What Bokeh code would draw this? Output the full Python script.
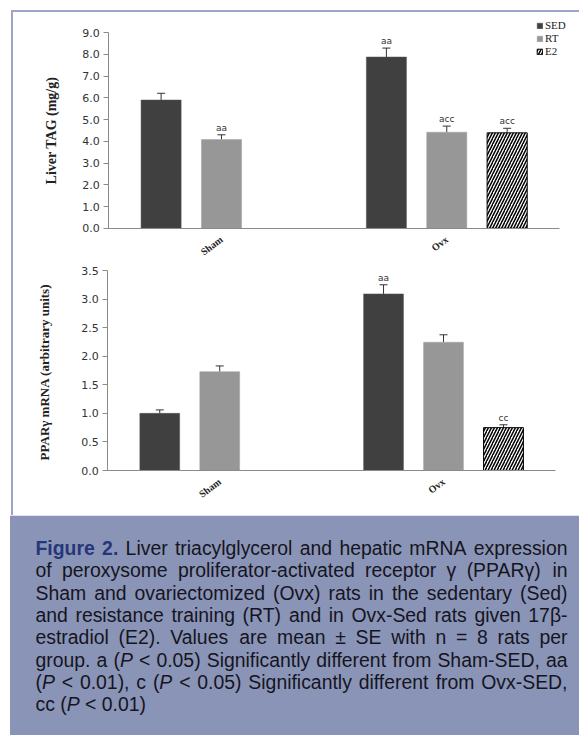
from bokeh.plotting import figure
from bokeh.models import (Range1d, FixedTicker, NumeralTickFormatter, Whisker, TeeHead,
                          ColumnDataSource, Legend, LegendItem)
from bokeh.layouts import column
from bokeh.core.properties import value
from bokeh.embed import file_html
from bokeh.resources import INLINE

# ---------------- data ----------------
groups = ["Sham", "Ovx"]
series_names = ["SED", "RT", "E2"]

tag_sed_groups = ["Sham", "Ovx"]
tag_sed = [5.90, 7.88]
tag_sed_se = [0.31, 0.41]
tag_sed_sig = ["", "aa"]
tag_rt_groups = ["Sham", "Ovx"]
tag_rt = [4.08, 4.42]
tag_rt_se = [0.22, 0.28]
tag_rt_sig = ["aa", "acc"]
tag_e2_groups = ["Ovx"]
tag_e2 = [4.39]
tag_e2_se = [0.21]
tag_e2_sig = ["acc"]

ppar_sed_groups = ["Sham", "Ovx"]
ppar_sed = [1.00, 3.09]
ppar_sed_se = [0.06, 0.16]
ppar_sed_sig = ["", "aa"]
ppar_rt_groups = ["Sham", "Ovx"]
ppar_rt = [1.73, 2.245]
ppar_rt_se = [0.10, 0.13]
ppar_rt_sig = ["", ""]
ppar_e2_groups = ["Ovx"]
ppar_e2 = [0.75]
ppar_e2_se = [0.05]
ppar_e2_sig = ["cc"]

tag_ticks = [0, 1, 2, 3, 4, 5, 6, 7, 8, 9]
ppar_ticks = [0, 0.5, 1.0, 1.5, 2.0, 2.5, 3.0, 3.5]

tag_label = "Liver TAG (mg/g)"
ppar_label = "PPARγ  mRNA (arbitrary units)"

caption_lines = [
    "**Figure 2.** Liver triacylglycerol and hepatic mRNA expression",
    "of peroxysome proliferator-activated receptor γ (PPARγ) in",
    "Sham and ovariectomized (Ovx) rats in the sedentary (Sed)",
    "and resistance training (RT) and in Ovx-Sed rats given 17β-",
    "estradiol (E2). Values are mean ± SE with n = 8 rats per",
    "group. a (_P_ < 0.05) Significantly different from Sham-SED, aa",
    "(_P_ < 0.01), c (_P_ < 0.05) Significantly different from Ovx-SED,",
    "cc (_P_ < 0.01)",
]

# ---------------- styles ----------------
BORDER = "#9DA5CC"
SED_C = "#404040"
RT_C = "#979797"
AXIS_C = "#8a8a8a"
OFFS = [-0.268, 0.0, 0.268]
BAR_W = 0.178
CANVAS_W = 566


def make_chart(height, axis_x, cat_w, top_px, zero_px, ymax, ticks, ylabel, ylabel_size,
               ylabel_standoff, data, styles, legend_loc=None):
    # frame covers the whole canvas; axes are pinned at fixed data locations
    ppu = (zero_px - top_px) / ymax
    y_start = -(height - zero_px) / ppu
    y_end = ymax + top_px / ppu
    x_start = -axis_x / cat_w
    x_end = (CANVAS_W - axis_x) / cat_w
    p = figure(width=CANVAS_W + 2, height=height + (2 if "border-top" in styles else 0),
               x_range=Range1d(x_start, x_end), y_range=Range1d(y_start, y_end),
               output_backend="svg", toolbar_location=None, min_border=0, styles=styles)
    p.outline_line_color = None
    p.grid.visible = False
    p.background_fill_color = "white"
    p.border_fill_color = "white"

    renderers = []
    for i, (g, v, se, sig) in enumerate(data):
        xs = [groups.index(k) + 0.5 + OFFS[i] for k in g]
        up = [a + b for a, b in zip(v, se)]
        src = ColumnDataSource(dict(x=xs, v=v, up=up, sig=sig))
        if i == 0:
            r = p.vbar(x="x", top="v", bottom=0, width=BAR_W, source=src,
                       fill_color=SED_C, line_color="#555555", line_width=0.5)
        elif i == 1:
            r = p.vbar(x="x", top="v", bottom=0, width=BAR_W, source=src,
                       fill_color=RT_C, line_color="#a0a0a0", line_width=0.5)
        else:
            r = p.vbar(x="x", top="v", bottom=0, width=BAR_W, source=src,
                       fill_color="white", line_color="black", line_width=1,
                       hatch_pattern="/", hatch_color="black", hatch_weight=1.5,
                       hatch_scale=6)
        renderers.append(r)
        w = Whisker(base="x", lower="v", upper="up", source=src, line_color="#333333",
                    line_width=1,
                    upper_head=TeeHead(size=8, line_color="#333333", line_width=1),
                    lower_head=None)
        p.add_layout(w)
        p.text(x="x", y="up", text="sig", source=src, text_align="center",
               text_baseline="bottom", y_offset=-2, text_font=value("DejaVu Sans"),
               text_font_size="9px", text_color="#333333")

    p.yaxis.fixed_location = 0
    p.yaxis.bounds = (0, ymax)
    p.yaxis.ticker = FixedTicker(ticks=ticks)
    p.yaxis.formatter = NumeralTickFormatter(format="0.0")
    p.yaxis.minor_tick_line_color = None
    p.yaxis.major_tick_in = 0
    p.yaxis.major_tick_out = 5
    p.yaxis.axis_line_color = AXIS_C
    p.yaxis.major_tick_line_color = AXIS_C
    p.yaxis.major_label_text_font = "DejaVu Sans"
    p.yaxis.major_label_text_font_size = "11px"
    p.yaxis.major_label_text_color = "#333333"
    p.yaxis.major_label_standoff = 4
    p.yaxis.axis_label = ylabel
    p.yaxis.axis_label_text_font = "Liberation Serif"
    p.yaxis.axis_label_text_font_style = "bold"
    p.yaxis.axis_label_text_font_size = ylabel_size
    p.yaxis.axis_label_text_color = "#222222"
    p.yaxis.axis_label_standoff = ylabel_standoff

    p.xaxis.fixed_location = 0
    p.xaxis.bounds = (0, len(groups))
    p.xaxis.ticker = FixedTicker(ticks=[i + 0.5 for i in range(len(groups))])
    p.xaxis.major_label_overrides = {i + 0.5: g for i, g in enumerate(groups)}
    p.xaxis.axis_line_color = AXIS_C
    p.xaxis.major_tick_line_color = None
    p.xaxis.minor_tick_line_color = None
    p.xaxis.major_tick_out = 0
    p.xaxis.major_tick_in = 0
    p.xaxis.major_label_orientation = 0.65
    p.xaxis.major_label_standoff = 10
    p.xaxis.major_label_text_font = "Liberation Serif"
    p.xaxis.major_label_text_font_style = "bold"
    p.xaxis.major_label_text_font_size = "10px"
    p.xaxis.major_label_text_color = "#222222"

    if legend_loc is not None:
        items = [LegendItem(label=n, renderers=[r]) for n, r in zip(series_names, renderers)]
        lg = Legend(items=items, location=legend_loc, orientation="vertical",
                    glyph_width=7, glyph_height=7, label_height=12, label_width=10,
                    spacing=1, padding=0, margin=0, label_standoff=2,
                    border_line_color=None, background_fill_alpha=0,
                    label_text_font="Liberation Serif", label_text_font_size="11px",
                    label_text_color="#222222")
        p.add_layout(lg)
    return p


tag_data = [(tag_sed_groups, tag_sed, tag_sed_se, tag_sed_sig),
            (tag_rt_groups, tag_rt, tag_rt_se, tag_rt_sig),
            (tag_e2_groups, tag_e2, tag_e2_se, tag_e2_sig)]
ppar_data = [(ppar_sed_groups, ppar_sed, ppar_sed_se, ppar_sed_sig),
             (ppar_rt_groups, ppar_rt, ppar_rt_se, ppar_rt_sig),
             (ppar_e2_groups, ppar_e2, ppar_e2_se, ppar_e2_sig)]

# p1 canvas: page x 13..579, y 12..257
p1 = make_chart(245, 95, 224.5, 20, 214, 9, tag_ticks, tag_label, "14px", 20, tag_data,
                styles={"border-left": "2px solid " + BORDER, "border-top": "2px solid " + BORDER,
                        "box-sizing": "border-box"},
                legend_loc=(523, 202))
p1.margin = (10, 0, 0, 11)
# p2 canvas: page x 13..579, y 257..515
p2 = make_chart(258, 94, 223, 13, 213, 3.5, ppar_ticks, ppar_label, "13px", 26, ppar_data,
                styles={"border-left": "2px solid " + BORDER, "box-sizing": "border-box"})
p2.margin = (0, 0, 0, 11)

# ---------------- caption ----------------
REG = {' ': 278, '!': 278, '(': 333, ')': 333, ',': 278, '-': 333, '.': 278, '<': 584,
       '=': 584, '>': 584, '±': 549, 'γ': 500, 'β': 575,
       'A': 667, 'B': 667, 'C': 722, 'D': 722, 'E': 667, 'F': 611, 'G': 778, 'H': 722,
       'I': 278, 'J': 500, 'K': 667, 'L': 556, 'M': 833, 'N': 722, 'O': 778, 'P': 667,
       'Q': 778, 'R': 722, 'S': 667, 'T': 611, 'U': 722, 'V': 667, 'W': 944, 'X': 667,
       'Y': 667, 'Z': 611, 'a': 556, 'b': 556, 'c': 500, 'd': 556, 'e': 556, 'f': 278,
       'g': 556, 'h': 556, 'i': 222, 'j': 222, 'k': 500, 'l': 222, 'm': 833, 'n': 556,
       'o': 556, 'p': 556, 'q': 556, 'r': 333, 's': 500, 't': 278, 'u': 556, 'v': 500,
       'w': 722, 'x': 500, 'y': 500, 'z': 500}
for d in "0123456789":
    REG[d] = 556
BOLD = dict(REG)
BOLD.update({'F': 611, 'i': 278, 'g': 611, 'u': 611, 'r': 389, 'e': 556, '.': 278})

FS = 19.4
CAP_X0, CAP_X1 = 35.0, 567.0
CAP_Y0, CAP_DY = 32.5, 22.3


def seg_width(t, bold):
    tab = BOLD if bold else REG
    return sum(tab.get(ch, 556) for ch in t) * FS / 1000.0


def parse_line(line, state):
    words = []
    for w in line.split(" "):
        segs = []
        cur = ""
        i = 0
        while i < len(w):
            if w.startswith("**", i):
                if cur:
                    segs.append((cur, state["b"], state["i"]))
                    cur = ""
                state["b"] = not state["b"]
                i += 2
            elif w[i] == "_":
                if cur:
                    segs.append((cur, state["b"], state["i"]))
                    cur = ""
                state["i"] = not state["i"]
                i += 1
            else:
                cur += w[i]
                i += 1
        if cur:
            segs.append((cur, state["b"], state["i"]))
        words.append(segs)
    return words


cap = {"reg": dict(x=[], y=[], t=[]), "bold": dict(x=[], y=[], t=[]), "ital": dict(x=[], y=[], t=[])}
state = {"b": False, "i": False}
for li, line in enumerate(caption_lines):
    words = parse_line(line, state)
    wwidths = [sum(seg_width(s[0], s[1]) for s in w) for w in words]
    if li < len(caption_lines) - 1 and len(words) > 1:
        gap = (CAP_X1 - CAP_X0 - sum(wwidths)) / (len(words) - 1)
    else:
        gap = REG[' '] * FS / 1000.0
    x = CAP_X0
    y = CAP_Y0 + li * CAP_DY
    for w, ww in zip(words, wwidths):
        sx = x
        for (t, b, it) in w:
            key = "bold" if b else ("ital" if it else "reg")
            cap[key]["x"].append(sx)
            cap[key]["y"].append(y)
            cap[key]["t"].append(t)
            sx += seg_width(t, b)
        x += ww + gap

p3 = figure(width=579, height=220, x_range=Range1d(0, 579), y_range=Range1d(220, 0),
            output_backend="svg", toolbar_location=None, min_border=0,
            x_axis_location=None, y_axis_location=None)
p3.grid.visible = False
p3.outline_line_color = None
p3.background_fill_color = "white"
p3.border_fill_color = "white"
p3.quad(left=[9.5], right=[579], top=[0], bottom=[220], fill_color="#8A94B6", line_color=None)
for key, color, style in [("reg", "#15151f", "normal"), ("bold", "#26367a", "bold"),
                          ("ital", "#15151f", "italic")]:
    src = ColumnDataSource(cap[key])
    p3.text(x="x", y="y", text="t", source=src, text_align="left", text_baseline="alphabetic",
            text_font=value("Liberation Sans"), text_font_size=f"{FS}px",
            text_font_style=style, text_color=color)

layout = column(p1, p2, p3, spacing=0)
open("out.html", "w").write(file_html(layout, INLINE))
